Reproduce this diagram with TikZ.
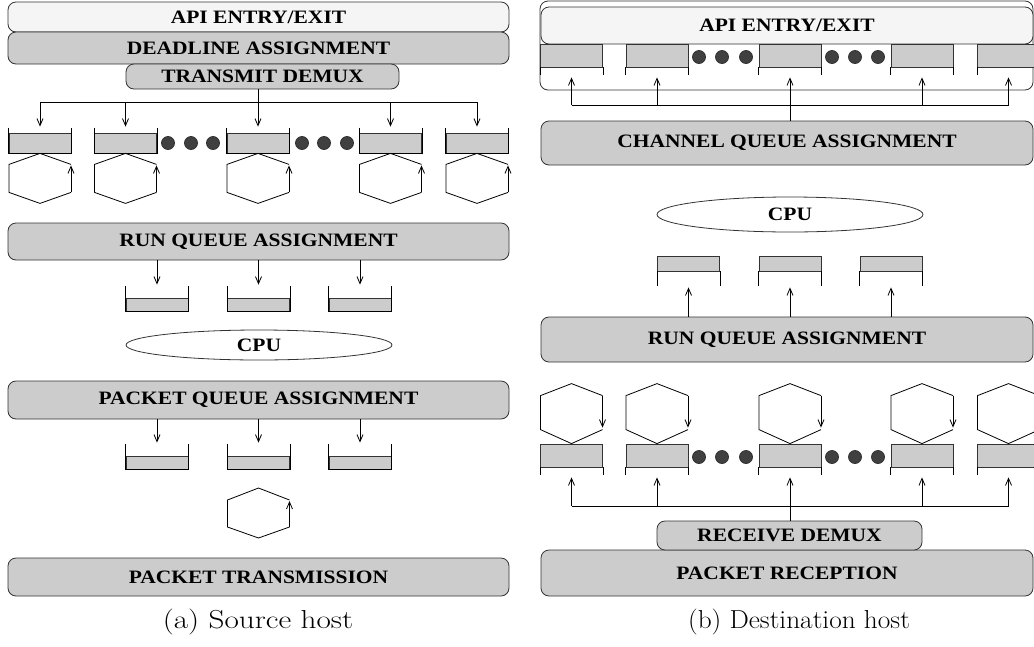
\documentclass[tikz,border=0pt]{standalone}
\usepackage{fontspec}
\usepackage{graphicx}
\newfontfamily\timesfont{Liberation Serif}
\usetikzlibrary{shapes.geometric,arrows.meta}
\newcommand{\lbl}[1]{\scalebox{1}[0.88]{#1}}

\begin{document}
\begin{tikzpicture}[x=1pt,y=-1pt,line width=0.8pt,
  layer/.style={draw=black!80,fill=gray!40,rounded corners=8pt,minimum width=501pt,inner sep=0pt,
    font=\timesfont\bfseries\fontsize{21.5}{24}\selectfont},
  slot/.style={draw=black!80,fill=gray!40,minimum width=62pt,inner sep=0pt},
  blob/.style={circle,draw=black!80,fill=black!75,minimum size=13pt,inner sep=0pt},
  cpu/.style={ellipse,draw=black!80,minimum width=266pt,inner sep=0pt,
    font=\timesfont\bfseries\fontsize{21.5}{24}\selectfont},
  feed/.style={-{Straight Barb[length=7pt,width=6pt]}}]
  \useasboundingbox (0,0) rectangle (1034,646);
  \clip (0,0) rectangle (1034,646);

  % (a) source host
  \node[layer,fill=gray!8,minimum height=30pt] (apiL) at (258.5,17) {\lbl{API ENTRY/EXIT}};
  \node[layer,minimum height=32pt] (deadline) at (258.5,48) {\lbl{DEADLINE ASSIGNMENT}};
  \node[layer,minimum width=273pt,minimum height=25pt] (txdemux) at (262.5,76.5) {\lbl{TRANSMIT DEMUX}};
  \foreach \x [count=\i] in {40,125.5,258,390.5,477}{
    \node[slot,minimum height=20pt] (tq\i) at (\x,143) {};
    \draw (tq\i.north west) ++(0,-5) -- (tq\i.south west) -- (tq\i.south east) -- ++(0,-25);
    \draw[shift={(tq\i.south)}] (31,11) -- (0,0) -- (-31,11) -- (-31,39) -- (0,50) -- (31,39);
    \draw[feed,shift={(tq\i.south)}] (31,39) -- (31,12);
  }
  \foreach \x [count=\i] in {168,191,213,302,324,347}
    \node[blob] (td\i) at (\x,143) {};
  \coordinate (busL) at (258,102);
  \draw (tq3 |- txdemux.south) -- (tq3 |- busL);
  \draw (tq1 |- busL) -- (tq5 |- busL);
  \foreach \i in {1,...,5}
    \draw[feed] (tq\i |- busL) -- ([yshift=6pt]tq\i.north);

  \node[layer,minimum height=37pt] (runL) at (258.5,241.5) {\lbl{RUN QUEUE ASSIGNMENT}};
  \foreach \x [count=\i] in {157,258.5,360}{
    \node[slot,minimum height=13pt] (rq\i) at (\x,304.5) {};
    \draw (rq\i.north west) ++(0,-12) -- (rq\i.south west) -- (rq\i.south east) -- ++(0,-25);
    \draw[feed] (rq\i |- runL.south) -- ([yshift=13pt]rq\i.north);
  }
  \node[cpu,minimum height=30pt] (cpuL) at (259,345) {\lbl{CPU}};

  \node[layer,minimum height=38pt] (pktL) at (258.5,400) {\lbl{PACKET QUEUE ASSIGNMENT}};
  \foreach \x [count=\i] in {157,258.5,360}{
    \node[slot,minimum height=13pt] (pq\i) at (\x,462.5) {};
    \draw (pq\i.north west) ++(0,-12) -- (pq\i.south west) -- (pq\i.south east) -- ++(0,-25);
    \draw[feed] (pq\i |- pktL.south) -- ([yshift=13pt]pq\i.north);
  }
  \coordinate (nic) at (258.5,488);
  \draw[shift={(nic)}] (31,12) -- (0,0) -- (-31,12) -- (-31,39) -- (0,50) -- (31,39);
  \draw[feed,shift={(nic)}] (31,39) -- (31,13);
  \node[layer,minimum height=38pt] (txL) at (258.5,577) {\lbl{PACKET TRANSMISSION}};
  \node[font=\fontsize{26}{30}\selectfont] (capL) at (258,622) {\scalebox{1.2}[1]{(a) Source host}};

  % (b) destination host
  \node[draw=black!80,fill=white,rounded corners=8pt,minimum width=493pt,minimum height=89pt,inner sep=0pt] (frameR) at (786.5,45.5) {};
  \node[layer,fill=gray!8,minimum width=492pt,minimum height=37pt] (apiR) at (787,25.5) {\lbl{API ENTRY/EXIT}};
  \foreach \x [count=\i] in {571.5,657,790,922,1008.5}{
    \node[slot,minimum height=23pt] (cq\i) at (\x,55.5) {};
    \draw (cq\i.south west) -- ++(0,8);
    \draw (cq\i.south east) -- ++(0,8);
  }
  \foreach \x [count=\i] in {699,722,746,832,855,878}
    \node[blob] (cd\i) at (\x,57) {};
  \node[layer,minimum width=492pt,minimum height=44pt] (chanR) at (787,143) {\lbl{CHANNEL QUEUE ASSIGNMENT}};
  \coordinate (busR) at (790,105);
  \draw (cq3 |- chanR.north) -- (cq3 |- busR);
  \draw (cq1 |- busR) -- (cq5 |- busR);
  \foreach \i in {1,...,5}
    \draw[feed] (cq\i |- busR) -- ([yshift=-10pt]cq\i.south);

  \node[cpu,minimum height=35pt] (cpuR) at (790,214.5) {\lbl{CPU}};
  \node[layer,minimum width=492pt,minimum height=45pt] (runR) at (787,339.5) {\lbl{RUN QUEUE ASSIGNMENT}};
  \foreach \x [count=\i] in {688.5,790,891}{
    \node[slot,minimum height=15pt] (rr\i) at (\x,263.5) {};
    \draw (rr\i.south west) -- ++(0,15);
    \draw (rr\i.south east) -- ++(0,15);
    \draw[feed] (rr\i |- runR.north) -- ([yshift=-16pt]rr\i.south);
  }

  \foreach \x [count=\i] in {571.5,657,790,922,1008.5}{
    \node[slot,minimum height=23pt] (pr\i) at (\x,455.5) {};
    \draw (pr\i.south west) -- ++(0,8);
    \draw (pr\i.south east) -- ++(0,8);
    \draw[shift={(pr\i.north)}] (31,-14) -- (0,0) -- (-31,-14) -- (-31,-48) -- (0,-60) -- (31,-48);
    \draw[feed,shift={(pr\i.north)}] (31,-48) -- (31,-16);
  }
  \foreach \x [count=\i] in {699,722,746,832,855,878}
    \node[blob] (pd\i) at (\x,457) {};
  \node[layer,minimum width=492pt,minimum height=46pt] (rxR) at (787,573) {\lbl{PACKET RECEPTION}};
  \node[layer,minimum width=265pt,minimum height=29pt] (rxdemux) at (789.5,535.5) {\lbl{RECEIVE DEMUX}};
  \coordinate (busRx) at (790,506);
  \draw (pr3 |- rxdemux.north) -- (pr3 |- busRx);
  \draw (pr1 |- busRx) -- (pr5 |- busRx);
  \foreach \i in {1,...,5}
    \draw[feed] (pr\i |- busRx) -- ([yshift=-10pt]pr\i.south);
  \node[font=\fontsize{26}{30}\selectfont] (capR) at (799,622) {\scalebox{1.05}[1]{(b) Destination host}};
\end{tikzpicture}
\end{document}
